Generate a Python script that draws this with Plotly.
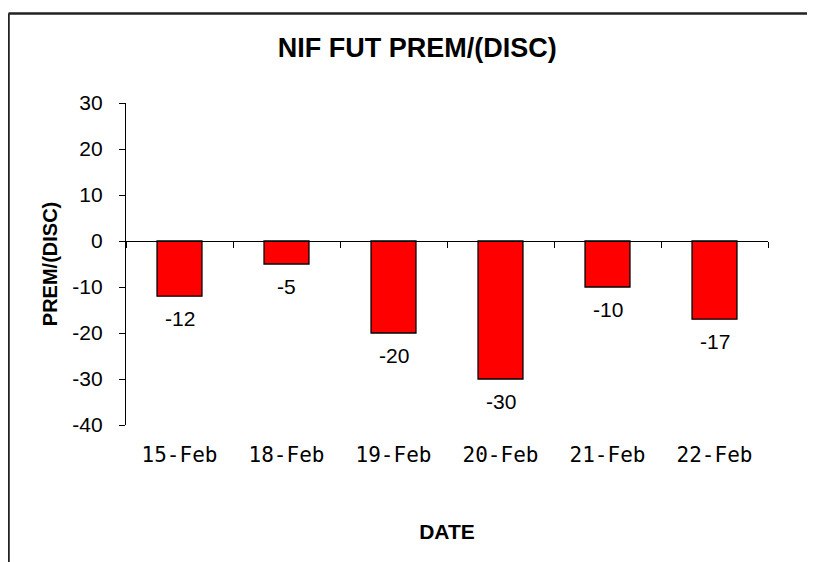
import plotly.graph_objects as go

# ---- data ----
dates = ["15-Feb", "18-Feb", "19-Feb", "20-Feb", "21-Feb", "22-Feb"]
prem_disc = [-12, -5, -20, -30, -10, -17]
y_ticks = [-40, -30, -20, -10, 0, 10, 20, 30]
y_tick_labels = ["-40", "-30", "-20", "-10", "0", "10", "20", "30"]
y_min, y_max = -40, 30

n = len(dates)
zero_pos = (0 - y_min) / (y_max - y_min)

fig = go.Figure()
fig.add_trace(go.Bar(
    x=dates, y=prem_disc,
    marker=dict(color="#FF0000", line=dict(color="#000000", width=1.3)),
    width=0.42, showlegend=False, hoverinfo="x+y",
))
# invisible trace to carry the bottom (label) axis
fig.add_trace(go.Scatter(x=dates, y=prem_disc, xaxis="x2", mode="none",
                         showlegend=False, hoverinfo="skip"))

# data labels below bars
for d, v in zip(dates, prem_disc):
    fig.add_annotation(x=d, y=v, text=str(v), showarrow=False, yanchor="top",
                       yshift=-9, font=dict(family="Liberation Sans, Arial", size=21, color="#000"))

fig.update_layout(
    width=807, height=554,
    margin=dict(l=118, r=47, t=95, b=137),
    paper_bgcolor="white", plot_bgcolor="white",
    title=dict(text="<b>NIF FUT PREM/(DISC)</b>", x=0.507, xanchor="center",
               y=1 - 40 / 554, yanchor="middle",
               font=dict(family="Liberation Sans, Arial", size=27, color="#000")),
    xaxis=dict(type="category", categoryorder="array", categoryarray=dates,
               range=[-0.5, n - 0.5], anchor="free", position=zero_pos,
               showline=True, linecolor="#000", linewidth=1.3,
               ticks="outside", tickson="boundaries", ticklen=6, tickwidth=1.3,
               tickcolor="#000", showticklabels=False, showgrid=False, zeroline=False),
    xaxis2=dict(type="category", categoryorder="array", categoryarray=dates,
                range=[-0.5, n - 0.5], overlaying="x", side="bottom", anchor="y",
                showline=False, ticks="", showgrid=False, zeroline=False,
                tickfont=dict(family="DejaVu Sans Mono", size=21, color="#000"),
                ticklabelstandoff=15,
                title=dict(text="<b>DATE</b>", standoff=58,
                           font=dict(family="Liberation Sans, Arial", size=21, color="#000"))),
    yaxis=dict(range=[y_min, y_max], tickvals=y_ticks, ticktext=y_tick_labels,
               showline=True, linecolor="#000",
               linewidth=1.3, ticks="outside", ticklen=6, tickwidth=1.3, tickcolor="#000",
               showgrid=False, zeroline=False, ticklabelstandoff=12,
               tickfont=dict(family="Liberation Sans, Arial", size=21, color="#000"),
               title=dict(text="<b>PREM/(DISC)</b>", standoff=9,
                          font=dict(family="Liberation Sans, Arial", size=20, color="#000"))),
    shapes=[
        dict(type="line", xref="paper", yref="paper", x0=-0.183, x1=1.2, y0=1.278, y1=1.278,
             line=dict(color="#222", width=2.5)),
        dict(type="line", xref="paper", yref="paper", x0=-0.183, x1=-0.183, y0=1.278, y1=-0.6,
             line=dict(color="#222", width=2.5)),
    ],
)

fig.write_html("out.html")
